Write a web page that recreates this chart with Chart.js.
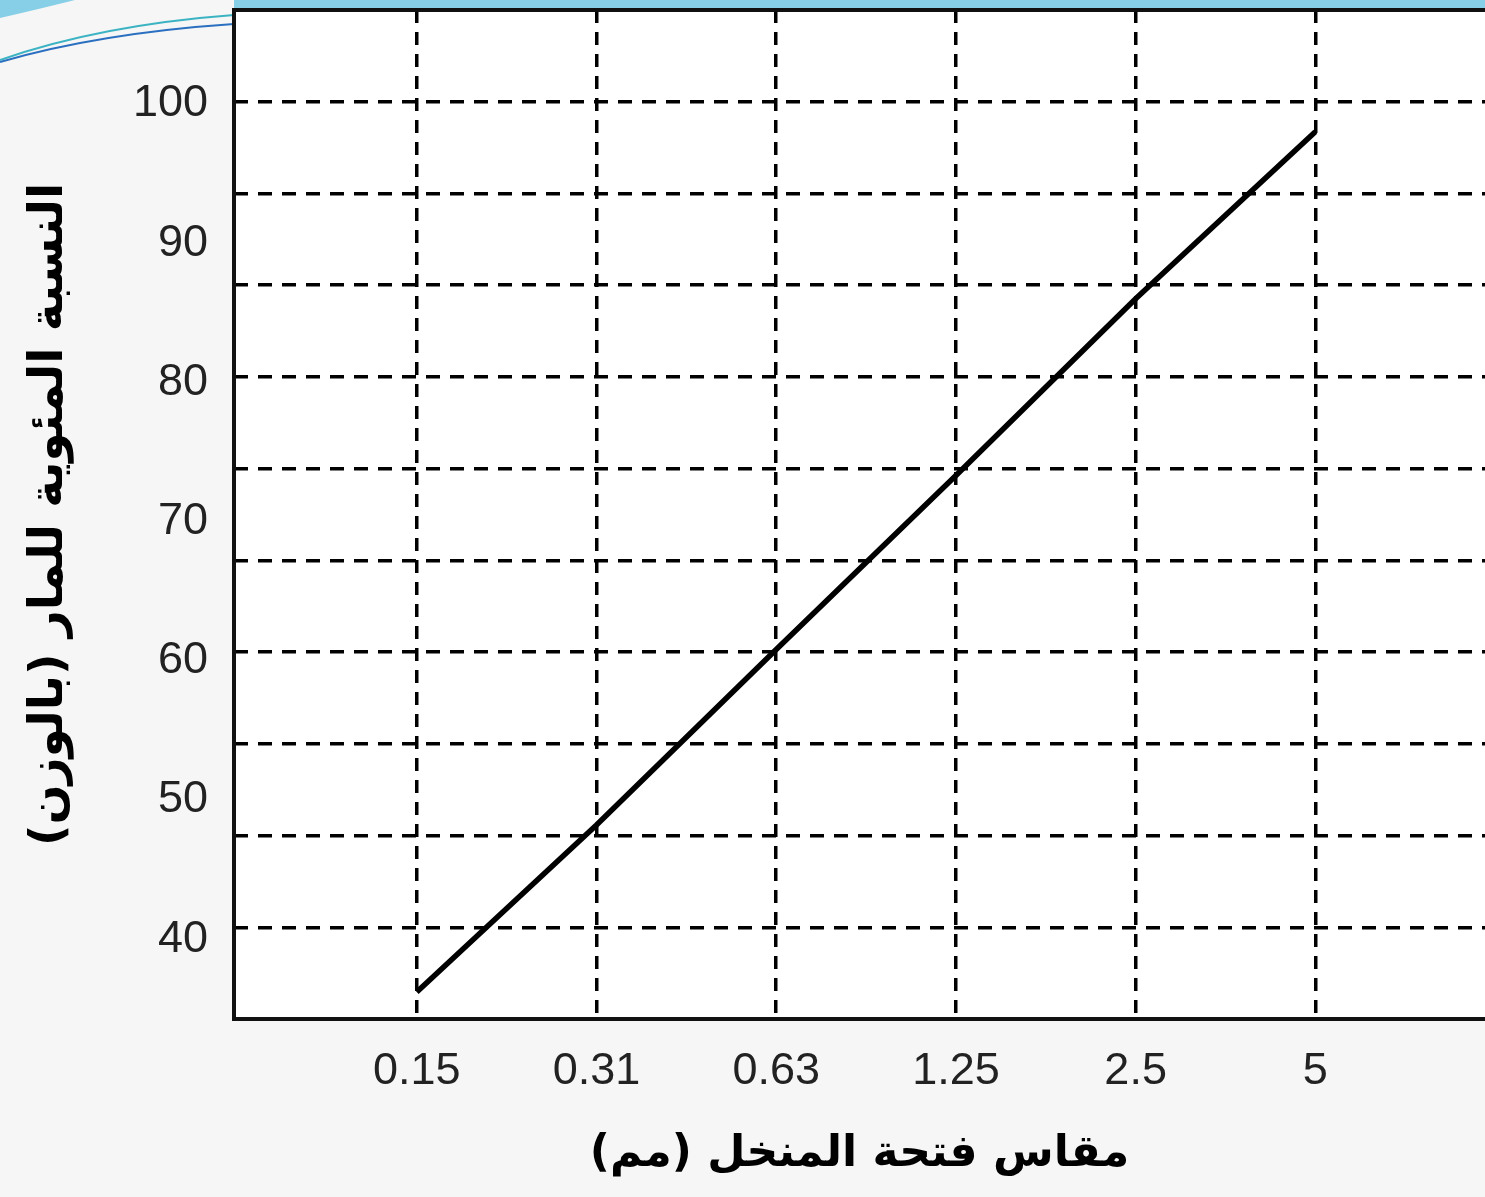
<!DOCTYPE html>
<html>
<head>
<meta charset="utf-8">
<script src="https://cdn.jsdelivr.net/npm/chart.js@4"></script>
<style>
  html, body { margin: 0; padding: 0; background: #f6f6f6; overflow: hidden; }
  .chart-container { position: relative; width: 1485px; height: 1197px; }
</style>
</head>
<body>
<div class="chart-container"><canvas id="sieveChart" width="1485" height="1197"></canvas></div>
<script>
// sieve sizes (mm) and % passing by weight
const sieveSizes = ['0.15', '0.31', '0.63', '1.25', '2.5', '5'];
const percentPassing = [36.2, 48.2, 60.8, 73.3, 86.0, 98.0];
const yTickLabels = [40, 50, 60, 70, 80, 90, 100];
const yGridSteps = [1, 2, 3, 4, 5, 6, 7, 8, 9, 10];

const yTitle = '\u200Fالنسبة المئوية للمار (بالوزن)\u200F';
const xTitle = '\u200Fمقاس فتحة المنخل (مم)\u200F';

// page background, white plot, frame top line and the slide swooshes
const framePlugin = {
    id: 'frame',
    beforeDraw(chart) {
        const { ctx, chartArea: a, width } = chart;
        ctx.save();
        ctx.fillStyle = '#f6f6f6';
        ctx.fillRect(0, 0, width, chart.height);
        ctx.fillStyle = '#ffffff';
        ctx.fillRect(a.left, a.top, a.right - a.left, a.bottom - a.top);

        // slide decoration
        ctx.fillStyle = '#86cfe6';
        ctx.beginPath();
        ctx.moveTo(0, 0);
        ctx.lineTo(75, 0);
        ctx.quadraticCurveTo(35, 10, 0, 18);
        ctx.closePath();
        ctx.fill();
        ctx.fillRect(a.left, 0, width - a.left, a.top - 2);
        ctx.lineWidth = 2;
        ctx.strokeStyle = '#3bb3c3';
        ctx.beginPath();
        ctx.moveTo(0, 60);
        ctx.quadraticCurveTo(100, 25, a.left, 15);
        ctx.stroke();
        ctx.strokeStyle = '#2a6fc0';
        ctx.beginPath();
        ctx.moveTo(0, 62);
        ctx.quadraticCurveTo(100, 33, a.left, 24);
        ctx.stroke();
        ctx.restore();
    },
    afterDraw(chart) {
        const { ctx, chartArea: a } = chart;
        ctx.save();
        ctx.strokeStyle = '#111';
        ctx.lineWidth = 4;
        ctx.beginPath();
        ctx.moveTo(a.left - 2, a.top);
        ctx.lineTo(a.right, a.top);
        ctx.stroke();
        ctx.restore();
    }
};

const noPad = (scale) => {
    scale.paddingTop = 0;
    scale.paddingBottom = 0;
    scale.paddingLeft = 0;
    scale.paddingRight = 0;
};

document.addEventListener('DOMContentLoaded', () => {
    const ctx = document.getElementById('sieveChart').getContext('2d');
    new Chart(ctx, {
        type: 'line',
        data: {
            labels: sieveSizes,
            datasets: [{
                data: percentPassing.map((v, i) => ({ x: i, y: v })),
                yAxisID: 'y',
                borderColor: '#000',
                borderWidth: 5.5,
                pointRadius: 0,
                fill: false,
                tension: 0
            }]
        },
        options: {
            responsive: false,
            animation: false,
            layout: { padding: { top: 10, left: 0, right: 0, bottom: 0 } },
            plugins: {
                legend: { display: false },
                tooltip: { enabled: false }
            },
            scales: {
                x: {
                    type: 'linear',
                    min: -1.017,
                    max: 5.944,
                    afterBuildTicks: (scale) => {
                        scale.ticks = sieveSizes.map((_, i) => ({ value: i }));
                    },
                    afterFit: (scale) => { scale.height = 178; noPad(scale); },
                    ticks: {
                        callback: (value) => sieveSizes[value] ?? '',
                        color: '#222',
                        padding: 26,
                        maxRotation: 0,
                        autoSkip: false,
                        font: { family: 'Liberation Sans', size: 45 }
                    },
                    grid: {
                        color: '#000',
                        lineWidth: 3.5,
                        drawTicks: false
                    },
                    border: { display: true, color: '#111', width: 4, dash: [13, 9] },
                    title: {
                        display: true,
                        text: xTitle,
                        color: '#000',
                        padding: { top: 0, bottom: 16 },
                        font: { family: 'DejaVu Sans', weight: 'bold', size: 44 }
                    }
                },
                y: {
                    position: 'left',
                    min: 34.26,
                    max: 106.75,
                    afterBuildTicks: (scale) => {
                        scale.ticks = yTickLabels.map((v) => ({ value: v }));
                    },
                    afterFit: (scale) => { scale.width = 234; noPad(scale); },
                    ticks: {
                        color: '#222',
                        padding: 26,
                        font: { family: 'Liberation Sans', size: 45 }
                    },
                    grid: { display: false, drawTicks: false },
                    border: { display: true, color: '#111', width: 4 },
                    title: {
                        display: true,
                        text: yTitle,
                        color: '#000',
                        padding: { top: 22, bottom: 0 },
                        font: { family: 'DejaVu Sans', weight: 'bold', size: 47 }
                    }
                },
                yGrid: {
                    position: 'left',
                    min: 0,
                    max: 11,
                    afterBuildTicks: (scale) => {
                        scale.ticks = yGridSteps.map((v) => ({ value: v }));
                    },
                    afterFit: (scale) => { scale.width = 0; noPad(scale); },
                    ticks: { display: false },
                    grid: {
                        color: '#000',
                        lineWidth: 3.5,
                        drawTicks: false
                    },
                    border: { display: false, dash: [14, 10] }
                }
            }
        },
        plugins: [framePlugin]
    });
});
</script>
</body>
</html>
